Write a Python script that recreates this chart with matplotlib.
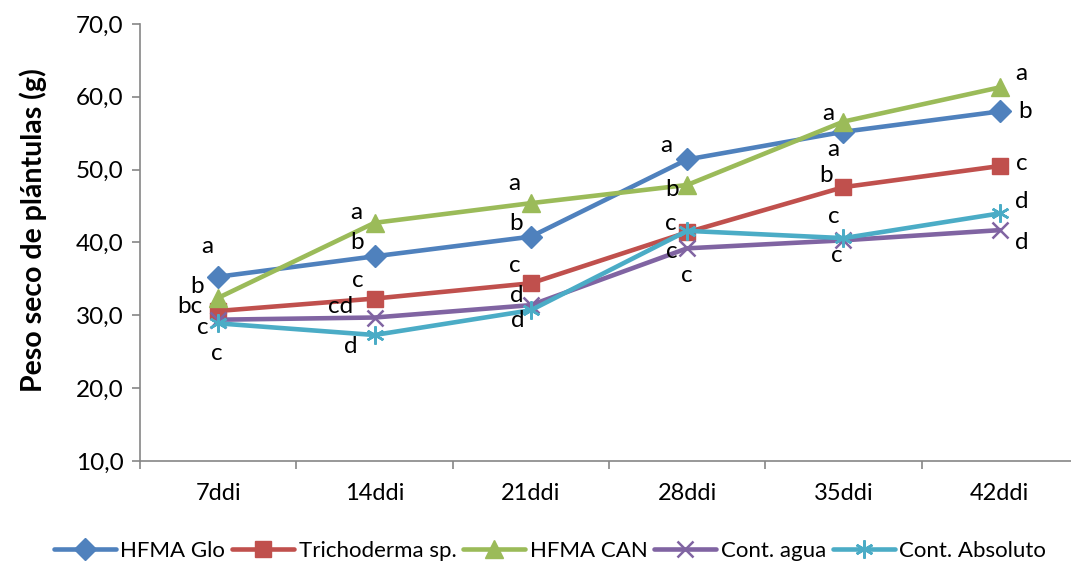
import matplotlib
matplotlib.use("Agg")
import matplotlib.pyplot as plt

plt.rcParams['font.family'] = ['Lato', 'DejaVu Sans']

categories = ["7ddi", "14ddi", "21ddi", "28ddi", "35ddi", "42ddi"]
series_names = ["HFMA Glo", "Trichoderma sp.", "HFMA CAN", "Cont. agua", "Cont. Absoluto"]
hfma_glo = [35.3, 38.1, 40.8, 51.4, 55.2, 58.0]
trichoderma = [30.6, 32.3, 34.4, 41.4, 47.6, 50.5]
hfma_can = [32.4, 42.7, 45.4, 47.9, 56.6, 61.3]
cont_agua = [29.4, 29.7, 31.4, 39.2, 40.3, 41.7]
cont_absoluto = [28.9, 27.3, 30.7, 41.6, 40.6, 44.0]

letters_glo = ["a", "b", "b", "a", "a", "b"]
letters_trich = ["bc", "c", "c", "c", "b", "c"]
letters_can = ["b", "a", "a", "b", "a", "a"]
letters_agua = ["c", "cd", "d", "c", "c", "d"]
letters_abs = ["c", "d", "d", "c", "c", "d"]

yticks = [10, 20, 30, 40, 50, 60, 70]
ytick_labels = ["10,0", "20,0", "30,0", "40,0", "50,0", "60,0", "70,0"]

# label offsets in pixels (dx, dy with dy positive = up)
off_glo = [(-11, 30), (-17, 14), (-15, 13), (-21, 14), (-10, -18), (25, 0)]
off_trich = [(-28, 4), (-17, 18), (-16, 18), (-16, 9), (-17, 12), (22, 3)]
off_can = [(-21, 11), (-18, 10), (-17, 20), (-15, -5), (-15, 8), (21, 14)]
off_agua = [(-15, -8), (-34, 11), (-14, 10), (0, -27), (-7, -15), (22, -12)]
off_abs = [(-1, -30), (-24, -12), (-13, -10), (-15, -21), (-10, 22), (22, 12)]

colors = ["#4F81BD", "#C0504D", "#9BBB59", "#8064A2", "#4BACC6"]
markers = ["D", "s", "^", "x", (6, 2, 0)]
msizes = [11, 12, 13, 11, 13]
mews = [1, 1, 1, 1.8, 1.8]

data = [hfma_glo, trichoderma, hfma_can, cont_agua, cont_absoluto]
letters = [letters_glo, letters_trich, letters_can, letters_agua, letters_abs]
offsets = [off_glo, off_trich, off_can, off_agua, off_abs]

fig = plt.figure(figsize=(10.71, 5.64), dpi=100)
W, H = 1071, 564
ax = fig.add_axes([140 / W, (H - 461) / H, 938 / W, 437 / H])

x = list(range(len(categories)))
handles = []
for i, (vals, name) in enumerate(zip(data, series_names)):
    ln, = ax.plot(x, vals, color=colors[i], lw=3.3, marker=markers[i], ms=msizes[i],
                  mew=mews[i], mec=colors[i], mfc=colors[i], label=name,
                  solid_capstyle='round', clip_on=False, zorder=3 + i)
    handles.append(ln)
    for j, (v, lab) in enumerate(zip(vals, letters[i])):
        dx, dy = offsets[i][j]
        ax.annotate(lab, (x[j], v), xytext=(dx, dy), textcoords='offset pixels',
                    ha='center', va='center', fontsize=17.5, color='black', zorder=10)

ax.set_xlim(-0.5, 5.5)
ax.set_ylim(10, 70)
ax.set_yticks(yticks)
ax.set_yticklabels(ytick_labels, fontsize=17.5)
ax.set_xticks(x)
ax.set_xticklabels(categories, fontsize=17)
ax.set_xticks([k - 0.5 for k in range(len(categories) + 1)], minor=True)
ax.tick_params(axis='x', which='major', length=0, pad=16)
ax.tick_params(axis='x', which='minor', length=6, color='#868686', width=1.2)
ax.tick_params(axis='y', which='major', length=6, color='#868686', width=1.2, pad=6)
for s in ['top', 'right']:
    ax.spines[s].set_visible(False)
for s in ['left', 'bottom']:
    ax.spines[s].set_color('#868686')
    ax.spines[s].set_linewidth(1.2)

fig.text(33 / W, 1 - 230 / H, "Peso seco de plántulas (g)", rotation=90,
         ha='center', va='center', fontsize=20.5, fontweight='bold')

leg = fig.legend(handles=handles, loc='center', bbox_to_anchor=(550 / W, 1 - 551 / H),
                 ncol=5, frameon=False, fontsize=16, handlelength=2.8,
                 handletextpad=0.2, columnspacing=0.3, borderaxespad=0)

fig.savefig("out.png", dpi=100)
